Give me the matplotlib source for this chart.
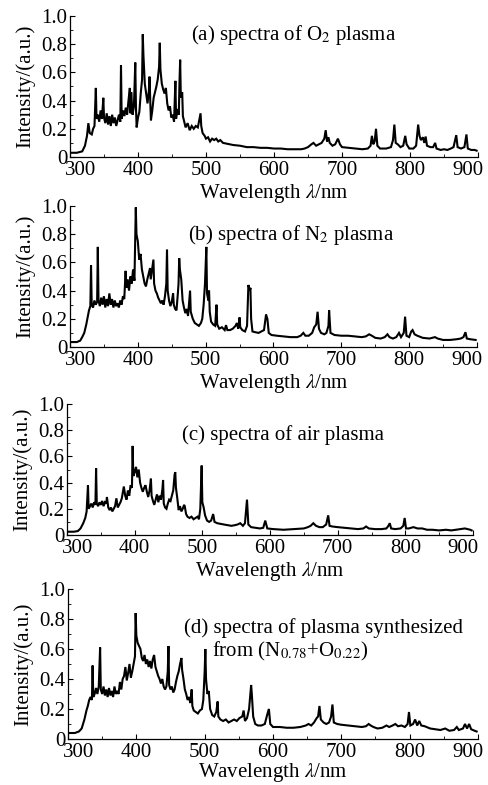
import matplotlib
matplotlib.use("Agg")
import matplotlib.pyplot as plt
from matplotlib.ticker import MultipleLocator, FixedLocator, FuncFormatter
from matplotlib.transforms import ScaledTranslation

plt.rcParams['font.family'] = ['Liberation Serif', 'DejaVu Serif']
plt.rcParams['mathtext.fontset'] = 'stix'
plt.rcParams['font.size'] = 15

# ---- data (wavelength nm, intensity a.u.) ----
wl_o2 = [300, 310, 318, 322, 325, 327, 329, 332, 334, 336, 338, 339, 341, 343, 345, 347, 349, 350,
         352, 354, 356, 358, 360, 362, 364, 366, 368, 370, 372, 374, 375, 376, 378, 380, 382, 384,
         386, 388, 389, 390, 392, 394, 396, 397, 398, 400, 402, 404, 406, 407, 408, 410, 412, 414,
         416, 417, 418, 419, 421, 423, 425, 427, 429, 431, 432, 433, 435, 437, 439, 441, 443, 445,
         447, 449, 451, 453, 455, 456, 458, 460, 461, 462, 463, 465, 466, 468, 470, 473, 476, 479,
         482, 485, 488, 490, 492, 493, 495, 498, 500, 503, 506, 509, 512, 515, 518, 521, 525, 530,
         535, 540, 550, 560, 570, 580, 590, 600, 610, 620, 630, 640, 645, 650, 655, 658, 662, 666,
         670, 674, 676, 678, 680, 682, 686, 690, 694, 697, 700, 710, 720, 730, 738, 742, 744, 746,
         748, 750, 752, 756, 765, 772, 775, 777, 779, 782, 786, 790, 793, 795, 799, 805, 809, 812,
         814, 816, 819, 821, 823, 825, 830, 834, 837, 839, 845, 850, 855, 860, 864, 868, 870, 875,
         880, 883, 885, 890, 895, 898]
i_o2 = [0.03, 0.03, 0.04, 0.08, 0.15, 0.24, 0.17, 0.16, 0.20, 0.22, 0.49, 0.27, 0.30, 0.25, 0.33, 0.27, 0.42, 0.28,
        0.24, 0.31, 0.23, 0.29, 0.22, 0.30, 0.24, 0.28, 0.22, 0.26, 0.30, 0.25, 0.65, 0.27, 0.33, 0.29, 0.35, 0.30,
        0.40, 0.49, 0.31, 0.46, 0.30, 0.36, 0.67, 0.35, 0.21, 0.28, 0.32, 0.45, 0.55, 0.87, 0.72, 0.52, 0.45, 0.38,
        0.47, 0.57, 0.40, 0.26, 0.33, 0.42, 0.46, 0.50, 0.55, 0.64, 0.81, 0.62, 0.52, 0.48, 0.45, 0.49, 0.38, 0.33,
        0.36, 0.28, 0.30, 0.25, 0.54, 0.27, 0.34, 0.30, 0.53, 0.69, 0.42, 0.46, 0.29, 0.25, 0.21, 0.24, 0.19, 0.22,
        0.20, 0.22, 0.21, 0.26, 0.31, 0.22, 0.17, 0.15, 0.13, 0.14, 0.11, 0.13, 0.12, 0.13, 0.11, 0.12, 0.10, 0.095,
        0.09, 0.085, 0.08, 0.07, 0.07, 0.065, 0.065, 0.06, 0.06, 0.055, 0.055, 0.055, 0.06, 0.07, 0.09, 0.10, 0.08, 0.09,
        0.10, 0.13, 0.19, 0.11, 0.14, 0.10, 0.08, 0.09, 0.13, 0.09, 0.07, 0.065, 0.06, 0.055, 0.06, 0.08, 0.15, 0.09,
        0.11, 0.20, 0.08, 0.06, 0.06, 0.07, 0.12, 0.23, 0.10, 0.09, 0.07, 0.08, 0.15, 0.09, 0.06, 0.06, 0.08, 0.23,
        0.15, 0.12, 0.14, 0.10, 0.145, 0.08, 0.07, 0.07, 0.10, 0.06, 0.05, 0.055, 0.05, 0.06, 0.07, 0.155, 0.07, 0.06,
        0.07, 0.16, 0.06, 0.05, 0.05, 0.045]

wl_n2 = [300, 310, 315, 318, 321, 324, 326, 328, 330, 331, 332, 334, 336, 338, 340, 341, 342, 344,
         346, 348, 350, 352, 354, 356, 358, 360, 362, 364, 366, 368, 370, 372, 374, 376, 378, 380,
         382, 383, 385, 387, 389, 391, 393, 395, 397, 398, 400, 402, 404, 406, 408, 410, 412, 414,
         416, 418, 419, 421, 423, 424, 426, 428, 430, 432, 434, 436, 438, 440, 442, 443, 444, 446,
         448, 450, 452, 453, 455, 457, 459, 460, 461, 462, 464, 466, 468, 470, 472, 474, 477, 478,
         481, 484, 487, 490, 493, 495, 497, 499, 501, 502, 504, 505, 506, 508, 511, 514, 516, 517,
         520, 524, 528, 530, 532, 536, 540, 544, 546, 548, 550, 551, 554, 558, 561, 563, 565, 566,
         567, 569, 573, 578, 582, 586, 589, 591, 593, 597, 605, 615, 625, 635, 640, 644, 647, 652,
         657, 660, 663, 665, 667, 670, 675, 678, 681, 682, 684, 690, 700, 710, 720, 730, 736, 741,
         745, 750, 758, 764, 768, 771, 776, 781, 785, 788, 792, 794, 796, 800, 803, 805, 808, 812,
         820, 830, 838, 842, 850, 860, 870, 876, 880, 883, 885, 890, 898]
i_n2 = [0.035, 0.035, 0.045, 0.07, 0.10, 0.16, 0.21, 0.26, 0.29, 0.58, 0.30, 0.28, 0.33, 0.30, 0.32, 0.71, 0.33, 0.29,
        0.35, 0.30, 0.36, 0.28, 0.34, 0.29, 0.38, 0.30, 0.34, 0.28, 0.33, 0.29, 0.31, 0.28, 0.33, 0.30, 0.36, 0.34,
        0.54, 0.42, 0.48, 0.40, 0.50, 0.45, 0.55, 0.47, 0.99, 0.80, 0.75, 0.62, 0.66, 0.55, 0.50, 0.45, 0.43, 0.48,
        0.52, 0.56, 0.48, 0.55, 0.62, 0.45, 0.40, 0.38, 0.35, 0.33, 0.31, 0.33, 0.30, 0.36, 0.45, 0.69, 0.40, 0.33,
        0.29, 0.32, 0.38, 0.30, 0.27, 0.26, 0.38, 0.45, 0.63, 0.55, 0.48, 0.33, 0.28, 0.24, 0.27, 0.22, 0.40, 0.25,
        0.20, 0.17, 0.16, 0.15, 0.17, 0.20, 0.30, 0.45, 0.71, 0.38, 0.33, 0.40, 0.25, 0.18, 0.16, 0.15, 0.30, 0.16,
        0.13, 0.14, 0.12, 0.155, 0.12, 0.12, 0.13, 0.15, 0.17, 0.13, 0.21, 0.14, 0.12, 0.11, 0.15, 0.44, 0.40, 0.42,
        0.20, 0.11, 0.105, 0.10, 0.11, 0.12, 0.23, 0.20, 0.10, 0.085, 0.08, 0.075, 0.07, 0.07, 0.08, 0.10, 0.08, 0.08,
        0.10, 0.14, 0.16, 0.25, 0.13, 0.10, 0.09, 0.10, 0.15, 0.26, 0.10, 0.085, 0.08, 0.08, 0.075, 0.07, 0.075, 0.09,
        0.08, 0.065, 0.06, 0.07, 0.09, 0.07, 0.06, 0.07, 0.10, 0.07, 0.10, 0.215, 0.08, 0.07, 0.11, 0.12, 0.09, 0.08,
        0.065, 0.06, 0.07, 0.06, 0.05, 0.05, 0.055, 0.06, 0.07, 0.105, 0.06, 0.055, 0.05]

wl_air = [300, 310, 316, 320, 324, 327, 329, 331, 332, 334, 336, 338, 340, 342, 343, 344, 346, 348,
          350, 352, 354, 356, 358, 359, 361, 363, 365, 367, 369, 371, 373, 375, 377, 379, 381, 384,
          386, 388, 390, 392, 394, 396, 397, 398, 400, 402, 404, 406, 408, 410, 412, 414, 416, 418,
          420, 422, 424, 425, 427, 429, 431, 433, 435, 437, 439, 441, 442, 443, 445, 447, 449, 451,
          453, 455, 457, 459, 460, 461, 463, 465, 467, 469, 471, 473, 474, 476, 478, 481, 484, 487,
          490, 493, 495, 497, 499, 500, 502, 504, 507, 510, 513, 516, 518, 522, 527, 532, 538, 543,
          548, 552, 556, 560, 563, 566, 568, 572, 578, 585, 590, 593, 596, 605, 620, 635, 650, 656,
          660, 664, 668, 673, 678, 683, 686, 688, 692, 700, 710, 720, 730, 738, 742, 746, 755, 765,
          772, 775, 777, 779, 785, 793, 797, 799, 801, 805, 812, 818, 825, 832, 840, 850, 860, 868,
          875, 882, 888, 892, 896, 898]
i_air = [0.025, 0.025, 0.03, 0.05, 0.09, 0.13, 0.18, 0.38, 0.20, 0.22, 0.24, 0.21, 0.25, 0.23, 0.51, 0.24, 0.22, 0.25,
         0.23, 0.26, 0.22, 0.25, 0.24, 0.29, 0.21, 0.19, 0.21, 0.18, 0.20, 0.22, 0.28, 0.21, 0.23, 0.25, 0.28, 0.37,
         0.30, 0.27, 0.34, 0.30, 0.38, 0.36, 0.68, 0.45, 0.48, 0.52, 0.44, 0.50, 0.40, 0.36, 0.33, 0.36, 0.38, 0.33,
         0.29, 0.34, 0.43, 0.30, 0.26, 0.23, 0.27, 0.31, 0.25, 0.30, 0.27, 0.35, 0.42, 0.24, 0.21, 0.20, 0.24, 0.27,
         0.26, 0.30, 0.34, 0.46, 0.48, 0.36, 0.28, 0.19, 0.22, 0.18, 0.20, 0.23, 0.22, 0.16, 0.14, 0.13, 0.14, 0.12,
         0.13, 0.14, 0.12, 0.20, 0.53, 0.25, 0.21, 0.15, 0.11, 0.10, 0.11, 0.16, 0.10, 0.09, 0.085, 0.08, 0.075, 0.07,
         0.075, 0.08, 0.09, 0.07, 0.09, 0.27, 0.08, 0.06, 0.055, 0.05, 0.055, 0.11, 0.05, 0.045, 0.04, 0.045, 0.05, 0.06,
         0.07, 0.09, 0.07, 0.06, 0.06, 0.08, 0.15, 0.07, 0.065, 0.06, 0.055, 0.05, 0.045, 0.05, 0.065, 0.05, 0.045, 0.045,
         0.05, 0.07, 0.09, 0.05, 0.045, 0.05, 0.07, 0.13, 0.05, 0.05, 0.06, 0.05, 0.05, 0.04, 0.04, 0.035, 0.04, 0.035,
         0.04, 0.045, 0.05, 0.045, 0.04, 0.035]

wl_mix = [300, 310, 316, 320, 324, 327, 329, 331, 333, 335, 336, 337, 339, 341, 343, 345, 347, 348,
          350, 352, 354, 356, 358, 360, 362, 364, 366, 368, 370, 372, 374, 376, 378, 380, 382, 384,
          386, 388, 390, 392, 394, 396, 398, 399, 400, 402, 404, 406, 408, 410, 412, 414, 416, 418,
          420, 422, 424, 426, 428, 430, 432, 434, 436, 438, 440, 442, 444, 446, 447, 448, 450, 452,
          454, 456, 458, 460, 462, 464, 466, 467, 469, 471, 473, 475, 477, 479, 481, 482, 484, 487,
          490, 493, 496, 498, 500, 501, 502, 504, 506, 508, 511, 514, 517, 519, 520, 523, 527, 531,
          535, 539, 543, 547, 551, 555, 557, 559, 562, 565, 568, 569, 571, 574, 578, 583, 588, 592,
          594, 596, 600, 610, 620, 630, 640, 648, 652, 656, 660, 664, 666, 668, 670, 674, 678, 682,
          685, 687, 689, 694, 700, 710, 720, 730, 736, 740, 743, 747, 753, 760, 766, 770, 775, 779,
          783, 788, 793, 797, 799, 801, 805, 808, 811, 814, 817, 822, 830, 838, 845, 852, 858, 865,
          869, 872, 878, 881, 884, 887, 890, 895, 898]
i_mix = [0.04, 0.04, 0.05, 0.07, 0.13, 0.19, 0.22, 0.26, 0.28, 0.26, 0.49, 0.28, 0.30, 0.34, 0.30, 0.35, 0.61, 0.33,
         0.30, 0.35, 0.29, 0.33, 0.28, 0.34, 0.29, 0.32, 0.28, 0.35, 0.30, 0.32, 0.30, 0.38, 0.33, 0.40, 0.42, 0.48,
         0.39, 0.44, 0.50, 0.41, 0.45, 0.50, 0.55, 0.84, 0.69, 0.64, 0.62, 0.60, 0.54, 0.52, 0.56, 0.50, 0.53, 0.48,
         0.52, 0.47, 0.53, 0.56, 0.48, 0.45, 0.42, 0.40, 0.37, 0.40, 0.35, 0.33, 0.35, 0.45, 0.62, 0.36, 0.33, 0.35,
         0.31, 0.33, 0.38, 0.42, 0.45, 0.50, 0.54, 0.46, 0.40, 0.33, 0.30, 0.26, 0.28, 0.24, 0.33, 0.22, 0.19, 0.18,
         0.17, 0.19, 0.20, 0.26, 0.45, 0.60, 0.40, 0.30, 0.32, 0.20, 0.16, 0.15, 0.18, 0.25, 0.15, 0.13, 0.12, 0.13,
         0.11, 0.12, 0.13, 0.12, 0.14, 0.15, 0.19, 0.12, 0.14, 0.20, 0.36, 0.30, 0.15, 0.10, 0.09, 0.09, 0.10, 0.17,
         0.20, 0.10, 0.08, 0.08, 0.075, 0.075, 0.08, 0.09, 0.10, 0.09, 0.11, 0.14, 0.15, 0.22, 0.13, 0.11, 0.10, 0.11,
         0.15, 0.23, 0.11, 0.10, 0.095, 0.09, 0.085, 0.08, 0.085, 0.10, 0.09, 0.08, 0.07, 0.075, 0.09, 0.08, 0.09, 0.10,
         0.085, 0.09, 0.08, 0.10, 0.18, 0.09, 0.10, 0.13, 0.09, 0.12, 0.09, 0.085, 0.07, 0.065, 0.06, 0.07, 0.055, 0.06,
         0.08, 0.06, 0.07, 0.10, 0.07, 0.10, 0.065, 0.055, 0.05]

x_ticks = [300, 400, 500, 600, 700, 800, 900]
y_ticks = [0, 0.2, 0.4, 0.6, 0.8, 1.0]

W, H = 489, 785
fig = plt.figure(figsize=(W / 100, H / 100), dpi=100)

# panel boxes in pixels: left, right, top, bottom
boxes = [(70, 478, 16, 157), (70, 477, 206, 347), (67, 473, 404, 535), (68, 478, 589, 739)]
series = [(wl_o2, i_o2), (wl_n2, i_n2), (wl_air, i_air), (wl_mix, i_mix)]


def yfmt(v, pos):
    return '0' if abs(v) < 1e-9 else '%.1f' % v


axes = []
for k, ((l, r, t, b), (wl, inten)) in enumerate(zip(boxes, series)):
    ax = fig.add_axes([l / W, 1 - b / H, (r - l) / W, (b - t) / H])
    ax.plot(wl, inten, color='black', lw=1.5, solid_joinstyle='miter')
    ax.set_xlim(300, 900)
    ax.set_ylim(0, 1.0)
    ax.xaxis.set_major_locator(FixedLocator(x_ticks))
    ax.yaxis.set_major_locator(FixedLocator(y_ticks))
    ax.xaxis.set_minor_locator(MultipleLocator(50))
    ax.yaxis.set_minor_locator(MultipleLocator(0.1))
    ax.yaxis.set_major_formatter(FuncFormatter(yfmt))
    ax.spines['top'].set_visible(False)
    ax.spines['right'].set_visible(False)
    for s in ('left', 'bottom'):
        ax.spines[s].set_linewidth(0.9)
    ax.tick_params(which='major', direction='in', length=3.5, width=0.8, labelsize=15, pad=3)
    ax.tick_params(axis='y', which='major', pad=2)
    ax.tick_params(which='minor', direction='in', length=2, width=0.6)
    ax.set_xlabel('Wavelength $\\lambda$/nm', fontsize=15, labelpad=1 if k < 3 else -1)
    ax.set_ylabel('Intensity/(a.u.)', fontsize=15, labelpad=4)
    # end labels sit a little inward in the reference
    ticks = ax.xaxis.get_major_ticks()
    ticks[0].label1.set_transform(ticks[0].label1.get_transform() +
                                  ScaledTranslation(0.11, 0, fig.dpi_scale_trans))
    ticks[-1].label1.set_transform(ticks[-1].label1.get_transform() +
                                   ScaledTranslation(-0.10, 0, fig.dpi_scale_trans))
    axes.append(ax)


def ftext(x, y, s, **kw):
    fig.text(x / W, 1 - y / H, s, ha='center', va='center', fontsize=15, **kw)


ftext(294, 35, '(a) spectra of O$_2$ plasma')
ftext(291, 235, '(b) spectra of N$_2$ plasma')
ftext(283, 435, '(c) spectra of air plasma')
ftext(324, 628, '(d) spectra of plasma synthesized')
ftext(290, 651, 'from (N$_{0.78}$+O$_{0.22}$)')

fig.savefig('out.png', dpi=100)
